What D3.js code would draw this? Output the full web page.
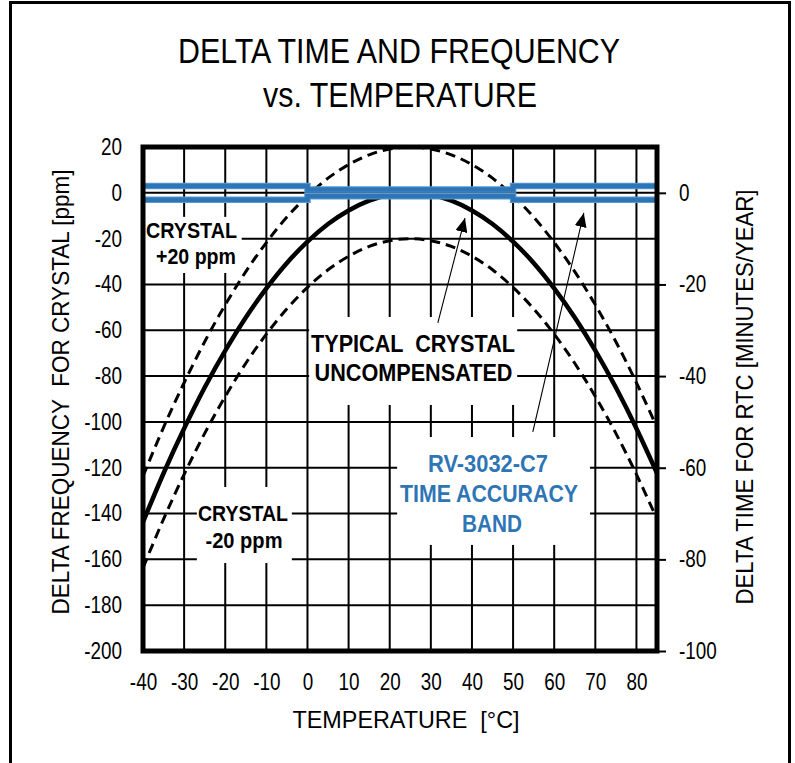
<!DOCTYPE html>
<html>
<head>
<meta charset="utf-8">
<script src="https://cdn.jsdelivr.net/npm/d3@7/dist/d3.min.js"></script>
<style>
  html, body { margin: 0; padding: 0; background: #fff; }
  svg { display: block; }
  text { font-family: 'Liberation Sans', Arial, sans-serif; white-space: pre; }
</style>
</head>
<body>
<svg id="chart" width="795" height="763"></svg>
<script>
// temperature points, °C
const temps = [-40, -35, -30, -25, -20, -15, -10, -5, 0, 5, 10, 15, 20, 25, 30, 35, 40, 45, 50, 55, 60, 65, 70, 75, 80, 85];
// typical uncompensated crystal, ppm
const typical = [-143.7, -122.4, -102.9, -85.0, -68.9, -54.4, -41.7, -30.6, -21.3, -13.6, -7.7, -3.4, -0.9, 0, -0.9, -3.4, -7.7, -13.6, -21.3, -30.6, -41.7, -54.4, -68.9, -85.0, -102.9, -122.4];
// crystal +20 ppm
const plus20 = [-123.7, -102.4, -82.9, -65.0, -48.9, -34.4, -21.7, -10.6, -1.3, 6.4, 12.3, 16.6, 19.1, 20, 19.1, 16.6, 12.3, 6.4, -1.3, -10.6, -21.7, -34.4, -48.9, -65.0, -82.9, -102.4];
// crystal -20 ppm
const minus20 = [-163.7, -142.4, -122.9, -105.0, -88.9, -74.4, -61.7, -50.6, -41.3, -33.6, -27.7, -23.4, -20.9, -20, -20.9, -23.4, -27.7, -33.6, -41.3, -50.6, -61.7, -74.4, -88.9, -105.0, -122.9, -142.4];

// RV-3032-C7 accuracy band, ppm
const bandTemps = [-40, 0, 0, 50, 50, 85];
const bandUpper = [3, 3, 1.5, 1.5, 3, 3];
const bandLower = [-3, -3, -1.5, -1.5, -3, -3];

const xTicks = [-40, -30, -20, -10, 0, 10, 20, 30, 40, 50, 60, 70, 80];
const ppmTicks = [20, 0, -20, -40, -60, -80, -100, -120, -140, -160, -180, -200];
const minTicks = [0, -20, -40, -60, -80, -100];

const BLUE = "#2e75b6";

const svg = d3.select("#chart");
const pL = 143, pR = 657, pT = 147, pB = 651;

const x = d3.scaleLinear().domain([-40, 85]).range([pL, pR]);
const y = d3.scaleLinear().domain([-200, 20]).range([pB, pT]);
const yMin = d3.scaleLinear().domain([-100, 10]).range([pB, pT]);

// squeeze text horizontally, the original uses a narrow face
function squeeze(sel, k) {
  sel.each(function () {
    const w = this.getComputedTextLength();
    d3.select(this).attr("textLength", w * k).attr("lengthAdjust", "spacingAndGlyphs");
  });
}
function fitTo(sel, width) {
  sel.attr("textLength", width).attr("lengthAdjust", "spacingAndGlyphs");
}

svg.append("rect").attr("width", 795).attr("height", 763).attr("fill", "#fff");

// outer frame
svg.append("path")
  .attr("d", "M10.5,763 V2.5 H789.5 V763")
  .attr("fill", "none").attr("stroke", "#000").attr("stroke-width", 3);

// title
fitTo(svg.append("text")
  .attr("x", 399).attr("y", 63)
  .attr("text-anchor", "middle")
  .style("font-size", "35px")
  .text("DELTA TIME AND FREQUENCY"), 442);
fitTo(svg.append("text")
  .attr("x", 400).attr("y", 107)
  .attr("text-anchor", "middle")
  .style("font-size", "35px")
  .text("vs. TEMPERATURE"), 274);

// gridlines
const grid = svg.append("g").attr("stroke", "#000").attr("stroke-width", 2);
grid.selectAll(".v").data(xTicks.slice(1)).join("line")
  .attr("x1", d => x(d)).attr("x2", d => x(d))
  .attr("y1", pT).attr("y2", pB);
grid.selectAll(".h").data(ppmTicks.slice(1, -1)).join("line")
  .attr("x1", pL).attr("x2", pR)
  .attr("y1", d => y(d)).attr("y2", d => y(d));

// crystal curves
const line = d3.line()
  .x((d, i) => x(temps[i]))
  .y(d => y(d))
  .curve(d3.curveNatural);

[plus20, minus20].forEach(arr => {
  svg.append("path").datum(arr)
    .attr("d", line).attr("fill", "none")
    .attr("stroke", "#000").attr("stroke-width", 3).attr("stroke-dasharray", "10,6");
});
svg.append("path").datum(typical)
  .attr("d", line).attr("fill", "none")
  .attr("stroke", "#000").attr("stroke-width", 4.5);

// accuracy band
const bandLine = d3.line()
  .x((d, i) => x(bandTemps[i]))
  .y(d => y(d));
[bandUpper, bandLower].forEach(arr => {
  svg.append("path").datum(arr)
    .attr("d", bandLine).attr("fill", "none")
    .attr("stroke", "#5b9bd5").attr("stroke-width", 6.5);
  svg.append("path").datum(arr)
    .attr("d", bandLine).attr("fill", "none")
    .attr("stroke", BLUE).attr("stroke-width", 4.5);
});

// white label boxes
const boxes = [
  [-40, -16, -10.5, -35],
  [-26.9, -3.8, -128.4, -161.6],
  [0.4, 51, -54.2, -92.6],
  [21.8, 68.7, -106.6, -153.7]
];
svg.selectAll(".box").data(boxes).join("rect")
  .attr("x", d => x(d[0])).attr("width", d => x(d[1]) - x(d[0]))
  .attr("y", d => y(d[2])).attr("height", d => y(d[3]) - y(d[2]))
  .attr("fill", "#fff");

// labels: centre x, cap-centre y, width (pixels)
const notes = [
  { color: "#000", size: 22, lines: [
    ["CRYSTAL", 191.5, 230, 91], ["+20 ppm", 196, 256, 80]] },
  { color: "#000", size: 22, lines: [
    ["CRYSTAL", 243, 513.5, 90], ["-20 ppm", 244, 540, 77]] },
  { color: "#000", size: 23, lines: [
    ["TYPICAL  CRYSTAL", 413, 343.5, 204], ["UNCOMPENSATED", 413.5, 373, 198]] },
  { color: BLUE, size: 24, lines: [
    ["RV-3032-C7", 488, 463.5, 120], ["TIME ACCURACY", 489, 493, 178], ["BAND", 492, 523, 60]] }
];
notes.forEach(n => {
  n.lines.forEach(([s, cx, cy, w]) => {
    fitTo(svg.append("text")
      .attr("x", cx).attr("y", cy + 0.358 * n.size)
      .attr("text-anchor", "middle")
      .attr("fill", n.color)
      .style("font-weight", "bold").style("font-size", n.size + "px")
      .text(s), w);
  });
});

// arrows
svg.append("defs").append("marker")
  .attr("id", "head").attr("viewBox", "0 0 10 10")
  .attr("refX", 10).attr("refY", 5)
  .attr("markerWidth", 14).attr("markerHeight", 12)
  .attr("markerUnits", "userSpaceOnUse")
  .attr("orient", "auto")
  .attr("preserveAspectRatio", "none")
  .append("path").attr("d", "M0,0 L10,5 L0,10 z").attr("fill", "#000");
const arrows = [
  [31.7, -56.8, 38.3, -11],
  [54.8, -104.4, 67.2, -8.8]
];
svg.selectAll(".arrow").data(arrows).join("line")
  .attr("x1", d => x(d[0])).attr("y1", d => y(d[1]))
  .attr("x2", d => x(d[2])).attr("y2", d => y(d[3]))
  .attr("stroke", "#000").attr("stroke-width", 1.1)
  .attr("marker-end", "url(#head)");

// plot frame
svg.append("rect")
  .attr("x", pL).attr("y", pT)
  .attr("width", pR - pL).attr("height", pB - pT)
  .attr("fill", "none").attr("stroke", "#000").attr("stroke-width", 5);

// axes
const fmt = d => String(d);
const axL = svg.append("g").attr("transform", `translate(${pL},0)`)
  .call(d3.axisLeft(y).tickValues(ppmTicks).tickFormat(fmt).tickSize(0).tickPadding(21));
const axB = svg.append("g").attr("transform", `translate(0,${pB})`)
  .call(d3.axisBottom(x).tickValues(xTicks).tickFormat(fmt).tickSize(0).tickPadding(23));
const axR = svg.append("g").attr("transform", `translate(${pR},0)`)
  .call(d3.axisRight(yMin).tickValues(minTicks).tickFormat(fmt).tickSize(9).tickPadding(13));
[axL, axB, axR].forEach(g => {
  g.select(".domain").remove();
  g.attr("font-family", null).attr("font-size", null);
  g.selectAll("text").style("font-size", "23px").attr("fill", "#000");
  g.selectAll("line").attr("stroke", "#000").attr("stroke-width", 2);
  squeeze(g.selectAll("text"), 0.82);
});

// axis titles
fitTo(svg.append("text")
  .attr("x", 406).attr("y", 728)
  .attr("text-anchor", "middle")
  .style("font-size", "24px")
  .text("TEMPERATURE  [°C]"), 227);
fitTo(svg.append("text")
  .attr("transform", "translate(69,392) rotate(-90)")
  .attr("text-anchor", "middle")
  .style("font-size", "24px")
  .text("DELTA FREQUENCY  FOR CRYSTAL [ppm]"), 445);
fitTo(svg.append("text")
  .attr("transform", "translate(753,397) rotate(-90)")
  .attr("text-anchor", "middle")
  .style("font-size", "24px")
  .text("DELTA TIME FOR RTC [MINUTES/YEAR]"), 415);
</script>
</body>
</html>
